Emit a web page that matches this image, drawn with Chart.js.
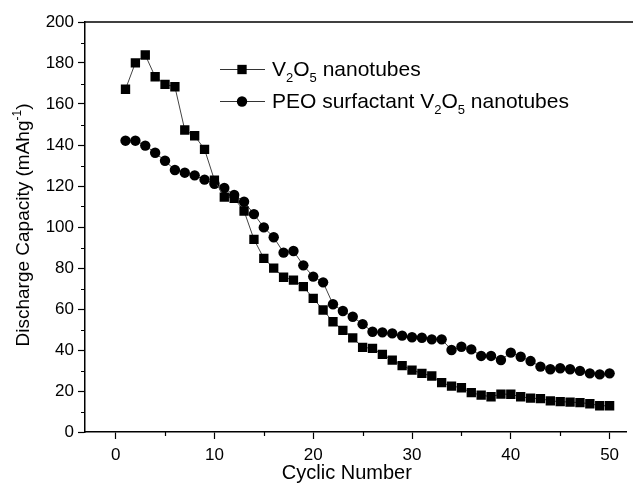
<!DOCTYPE html>
<html>
<head>
<meta charset="utf-8">
<script src="https://cdn.jsdelivr.net/npm/chart.js@4.4.1/dist/chart.umd.min.js"></script>
<style>
  html, body { margin: 0; padding: 0; background: #fff; overflow: hidden; }
  canvas { display: block; background: #fff; }
</style>
</head>
<body>
<canvas id="capChart" width="633" height="486"></canvas>
<script>
const cycles = [1, 2, 3, 4, 5, 6, 7, 8, 9, 10, 11, 12, 13, 14, 15, 16, 17, 18, 19, 20,
    21, 22, 23, 24, 25, 26, 27, 28, 29, 30, 31, 32, 33, 34, 35, 36, 37, 38, 39, 40,
    41, 42, 43, 44, 45, 46, 47, 48, 49, 50];

const v2o5Capacity = [167.2, 180.1, 183.9, 173.3, 169.6, 168.4, 147.3, 144.5, 137.9, 122.9,
    114.6, 114.0, 107.8, 94.0, 84.7, 79.9, 75.5, 74.1, 70.9, 65.2,
    59.5, 53.8, 49.6, 45.9, 41.3, 40.8, 37.9, 35.1, 32.4, 30.2,
    28.6, 27.3, 24.1, 22.4, 21.6, 19.2, 18.0, 17.2, 18.5, 18.4,
    17.2, 16.5, 16.3, 15.2, 14.8, 14.6, 14.3, 13.8, 12.8, 12.8];

const peoCapacity = [142.1, 142.1, 139.7, 136.2, 132.3, 127.8, 126.5, 125.2, 123.1, 121.1,
    119.0, 115.6, 112.3, 106.3, 99.8, 95.0, 87.5, 88.3, 81.3, 75.8,
    73.0, 62.3, 59.0, 56.2, 52.6, 48.9, 48.6, 48.1, 47.0, 46.2,
    46.0, 45.2, 45.2, 40.0, 41.6, 40.3, 37.1, 37.1, 35.1, 38.7,
    36.7, 34.6, 31.9, 30.6, 31.1, 30.6, 29.8, 28.6, 28.1, 28.6];

const xTicks = [0, 10, 20, 30, 40, 50];
const xMinorTicks = [5, 15, 25, 35, 45];
const yTicks = [0, 20, 40, 60, 80, 100, 120, 140, 160, 180, 200];
const yMinorTicks = [10, 30, 50, 70, 90, 110, 130, 150, 170, 190];

const FONT = '"Liberation Sans", Arial, sans-serif';

function toPoints(ys) {
    return cycles.map((c, i) => ({ x: c, y: ys[i] }));
}

// text with sub/superscript pieces: [text, shift] where shift 0 = normal, 1 = sub, -1 = sup
function drawRichText(ctx, parts, x, y, size) {
    let cx = x;
    parts.forEach(([txt, shift]) => {
        const s = shift === 0 ? size : Math.round(size * 0.62);
        ctx.font = s + 'px ' + FONT;
        const dy = shift === 1 ? size * 0.3 : (shift === -1 ? -size * 0.42 : 0);
        ctx.fillText(txt, cx, y + dy);
        cx += ctx.measureText(txt).width;
    });
    return cx - x;
}

function richWidth(ctx, parts, size) {
    let w = 0;
    parts.forEach(([txt, shift]) => {
        const s = shift === 0 ? size : Math.round(size * 0.62);
        ctx.font = s + 'px ' + FONT;
        w += ctx.measureText(txt).width;
    });
    return w;
}

const extrasPlugin = {
    id: 'extras',
    afterDraw(chart) {
        const ctx = chart.ctx;
        const area = chart.chartArea;
        const xs = chart.scales.x;
        const ys = chart.scales.y;
        ctx.save();
        ctx.strokeStyle = '#000';
        ctx.fillStyle = '#000';

        // top frame line
        ctx.lineWidth = 1.5;
        ctx.beginPath();
        ctx.moveTo(area.left, area.top);
        ctx.lineTo(chart.width, area.top);
        ctx.stroke();

        // minor ticks
        ctx.lineWidth = 1.2;
        ctx.beginPath();
        xMinorTicks.forEach(v => {
            const px = Math.round(xs.getPixelForValue(v)) + 0.5;
            ctx.moveTo(px, area.bottom);
            ctx.lineTo(px, area.bottom + 4);
        });
        yMinorTicks.forEach(v => {
            const py = Math.round(ys.getPixelForValue(v)) + 0.5;
            ctx.moveTo(area.left, py);
            ctx.lineTo(area.left - 4, py);
        });
        ctx.stroke();

        // y title
        ctx.save();
        const yParts = [['Discharge Capacity (mAhg', 0], ['-1', -1], [')', 0]];
        const ySize = 19;
        const yw = richWidth(ctx, yParts, ySize);
        ctx.translate(29, (area.top + area.bottom) / 2 - 2);
        ctx.rotate(-Math.PI / 2);
        ctx.textBaseline = 'alphabetic';
        ctx.textAlign = 'left';
        drawRichText(ctx, yParts, -yw / 2, 0, ySize);
        ctx.restore();

        // x title
        ctx.font = '20px ' + FONT;
        ctx.textAlign = 'center';
        ctx.textBaseline = 'alphabetic';
        ctx.fillText('Cyclic Number', xs.getPixelForValue(23.4), 479);

        // legend
        ctx.textAlign = 'left';
        const legendRows = [
            { ds: chart.data.datasets[0], y: 69, parts: [['V', 0], ['2', 1], ['O', 0], ['5', 1], [' nanotubes', 0]] },
            { ds: chart.data.datasets[1], y: 101, parts: [['PEO surfactant V', 0], ['2', 1], ['O', 0], ['5', 1], [' nanotubes', 0]] }
        ];
        legendRows.forEach(row => {
            ctx.strokeStyle = '#333';
            ctx.lineWidth = 1;
            ctx.beginPath();
            ctx.moveTo(220, row.y + 0.5);
            ctx.lineTo(265, row.y + 0.5);
            ctx.stroke();
            ctx.fillStyle = '#000';
            Chart.helpers.drawPoint(ctx, {
                pointStyle: row.ds.pointStyle,
                radius: row.ds.pointRadius,
                borderWidth: 0
            }, 242, row.y + 0.5);
            ctx.fillStyle = '#000';
            drawRichText(ctx, row.parts, 272, row.y + 7, 21);
        });
        ctx.restore();
    }
};

new Chart(document.getElementById('capChart').getContext('2d'), {
    type: 'line',
    data: {
        datasets: [{
            label: 'V2O5 nanotubes',
            data: toPoints(v2o5Capacity),
            borderColor: '#444',
            borderWidth: 1,
            backgroundColor: '#000',
            pointStyle: 'rect',
            pointRadius: 6.6,
            pointBorderWidth: 0,
            pointBackgroundColor: '#000',
            tension: 0
        }, {
            label: 'PEO surfactant V2O5 nanotubes',
            data: toPoints(peoCapacity),
            borderColor: '#444',
            borderWidth: 1,
            backgroundColor: '#000',
            pointStyle: 'circle',
            pointRadius: 5.2,
            pointBorderWidth: 0,
            pointBackgroundColor: '#000',
            tension: 0
        }]
    },
    options: {
        responsive: false,
        animation: false,
        layout: { padding: { top: 22, right: 0, left: 0, bottom: 0 } },
        plugins: {
            legend: { display: false },
            tooltip: { enabled: false }
        },
        scales: {
            x: {
                type: 'linear',
                min: -3.1,
                max: 51.7,
                afterFit: scale => {
                    scale.height = 54;
                    scale.paddingLeft = 0;
                    scale.paddingRight = 0;
                },
                afterBuildTicks: scale => { scale.ticks = xTicks.map(v => ({ value: v })); },
                grid: { drawOnChartArea: false, tickLength: 7, tickColor: '#000', tickWidth: 1.2 },
                border: { color: '#000', width: 1.5 },
                ticks: {
                    color: '#000',
                    padding: 6,
                    maxRotation: 0,
                    autoSkip: false,
                    font: { family: FONT, size: 17 }
                }
            },
            y: {
                min: 0,
                max: 200,
                afterFit: scale => {
                    scale.width = 85;
                    scale.paddingTop = 0;
                    scale.paddingBottom = 0;
                },
                afterBuildTicks: scale => { scale.ticks = yTicks.map(v => ({ value: v })); },
                grid: { drawOnChartArea: false, tickLength: 7, tickColor: '#000', tickWidth: 1.2 },
                border: { color: '#000', width: 1.5 },
                ticks: {
                    color: '#000',
                    padding: 4,
                    autoSkip: false,
                    font: { family: FONT, size: 17 }
                }
            }
        }
    },
    plugins: [extrasPlugin]
});
</script>
</body>
</html>
